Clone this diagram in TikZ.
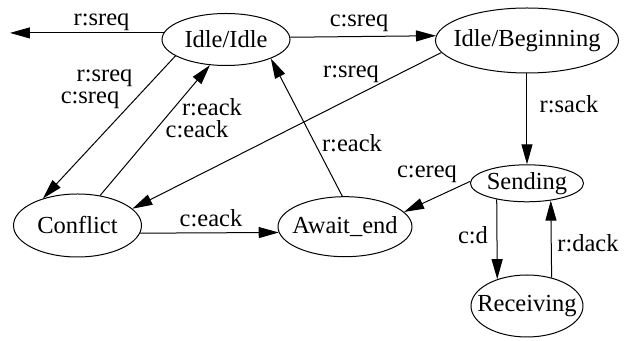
\documentclass[tikz,border=0pt]{standalone}
\usepackage{fontspec}
\newfontfamily\diagfont{Liberation Serif}
\usetikzlibrary{arrows.meta,shapes.geometric}
\begin{document}
\begin{tikzpicture}[x=0.5pt,y=0.5pt,
  state/.style={draw,ellipse,inner sep=0pt,line width=0.5pt},
  edge/.style={line width=0.5pt,-{Triangle[length=10pt,width=5.5pt]}},
  lbl/.style={inner sep=0pt},
  font=\diagfont\fontsize{12.25}{14}\selectfont]
\useasboundingbox (0,0) rectangle (629,-341);

% states
\node[state,minimum width=64pt,minimum height=26pt]   (ii) at (226,-39.5)  {\makebox[0pt]{Idle/Idle}};
\node[state,minimum width=91.5pt,minimum height=32.5pt] (ib) at (527,-40.5) {\makebox[0pt]{Idle/Beginning}};
\node[state,minimum width=56.5pt,minimum height=18.5pt] (se) at (527,-183.3) {\makebox[0pt]{Sending}};
\node[state,minimum width=56pt,minimum height=31pt]   (rc) at (527,-306)   {\makebox[0pt]{Receiving}};
\node[state,minimum width=67pt,minimum height=30pt]   (ae) at (345,-226.7) {\makebox[0pt]{Await\_end}};
\node[state,minimum width=64pt,minimum height=31.5pt] (cf) at (77.5,-225.5) {\makebox[0pt]{Conflict}};
\coordinate (lft) at (10,-33);

% transitions
\draw[edge] (ii.174.6) -- (ii.174.6 -| lft);
\draw[edge] (ii.2.7) -- (ib.177.5);
\draw[edge] (ii.198) -- (cf.142);
\draw[edge] (cf.53.4) -- (ii.238.4);
\draw[edge] (ib.188.5) -- (cf.17.2);
\draw[edge] (ib.south) -- (se.north);
\draw[edge] (ae.95.4) -- (ii.337.5);
\draw[edge] (se.178.4) -- (ae.14.2);
\draw[edge] (cf.353.6) -- (ae.185.2);
\draw[edge] (se.208.1) -- (rc.138.9);
\draw[edge] (rc.49.4) -- (se.324.4);

% transition labels
\node[lbl] (l1)  at (101.5,-22) {r:sreq};
\node[lbl] (l2)  at (359,-23)   {c:sreq};
\node[lbl] (l3a) at (104.5,-78) {r:sreq};
\node[lbl] (l3b) at (90,-100)   {c:sreq};
\node[lbl] (l4a) at (212,-107)  {r:eack};
\node[lbl] (l4b) at (197,-129)  {c:eack};
\node[lbl] (l5)  at (351,-74)   {r:sreq};
\node[lbl] (l6)  at (569,-104)  {r:sack};
\node[lbl] (l7)  at (352,-143)  {r:eack};
\node[lbl] (l8)  at (427,-174)  {c:ereq};
\node[lbl] (l9)  at (211,-218)  {c:eack};
\node[lbl] (l10) at (473,-235)  {c:d};
\node[lbl] (l11) at (588,-243)  {r:dack};
\end{tikzpicture}
\end{document}
